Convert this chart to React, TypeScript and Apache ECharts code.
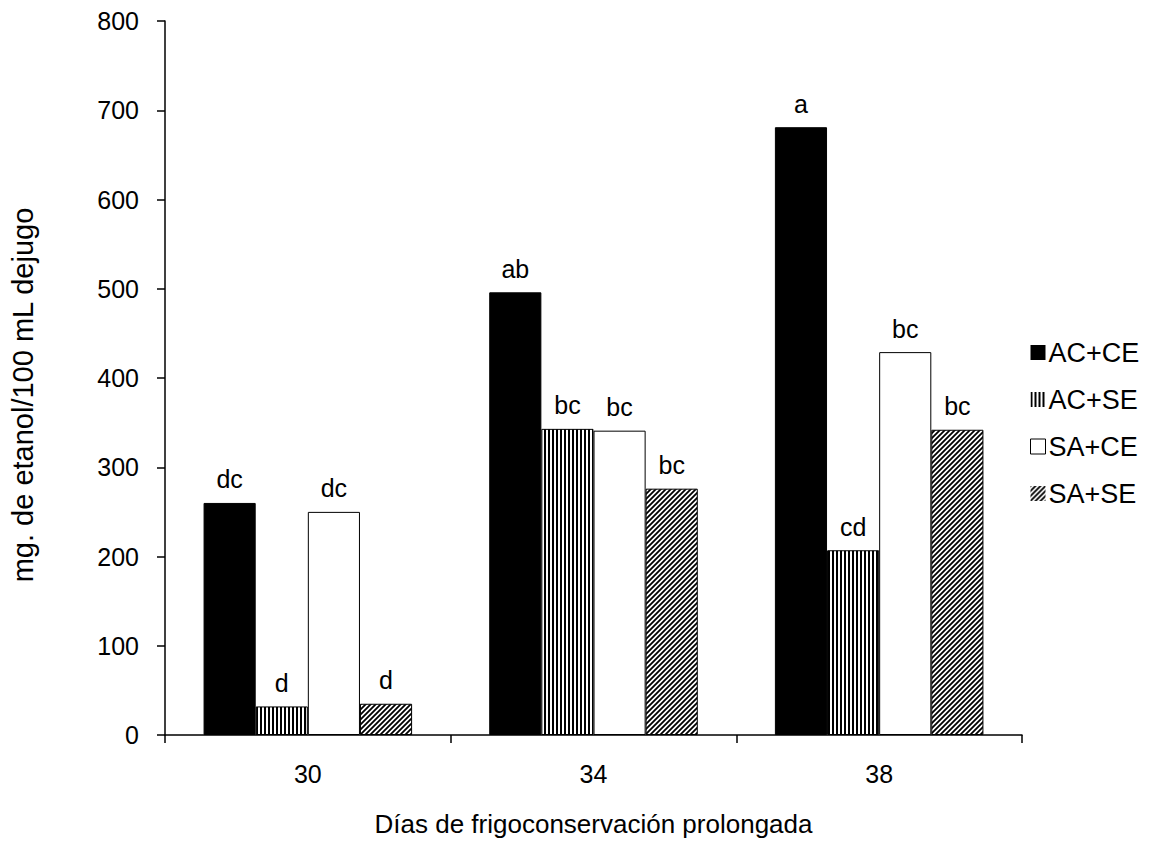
import React, { useEffect, useRef } from "react";
import * as echarts from "echarts";

const categories = ["30", "34", "38"];
const seriesNames = ["AC+CE", "AC+SE", "SA+CE", "SA+SE"];
const acce = [260, 496, 681];
const acse = [32, 343, 207];
const sace = [250, 341, 429];
const sase = [35, 276, 342];
const acceLabels = ["dc", "ab", "a"];
const acseLabels = ["d", "bc", "cd"];
const saceLabels = ["dc", "bc", "bc"];
const saseLabels = ["d", "bc", "bc"];
const yTicks = [0, 100, 200, 300, 400, 500, 600, 700, 800];

const FONT = "Liberation Sans, Arial, sans-serif";

function vStripes() {
  const c = document.createElement("canvas");
  c.width = 4;
  c.height = 4;
  const ctx = c.getContext("2d")!;
  ctx.fillStyle = "#fff";
  ctx.fillRect(0, 0, 4, 4);
  ctx.fillStyle = "#000";
  ctx.fillRect(0, 0, 2, 4);
  return c;
}

function diagHatch() {
  const s = 5;
  const c = document.createElement("canvas");
  c.width = s;
  c.height = s;
  const ctx = c.getContext("2d")!;
  ctx.fillStyle = "#fff";
  ctx.fillRect(0, 0, s, s);
  ctx.strokeStyle = "#000";
  ctx.lineWidth = 1.8;
  ctx.beginPath();
  for (let k = -1; k <= 1; k++) {
    ctx.moveTo(-1 + k * s, s + 1);
    ctx.lineTo(s + 1 + k * s, -1);
  }
  ctx.stroke();
  return c;
}

export default function App() {
  const ref = useRef<HTMLDivElement>(null);
  useEffect(() => {
    if (!ref.current) return;
    const chart = echarts.init(ref.current, null, { renderer: "svg" });
    const fills: any[] = [
      "#000",
      { image: vStripes(), repeat: "repeat" },
      "#fff",
      { image: diagHatch(), repeat: "repeat" },
    ];
    const datas = [acce, acse, sace, sase];
    const labels = [acceLabels, acseLabels, saceLabels, saseLabels];
    const series = seriesNames.map((name, i) => ({
      name,
      type: "bar",
      data: datas[i],
      barGap: "0%",
      barCategoryGap: "27%",
      itemStyle: { color: fills[i], borderColor: "#000", borderWidth: 1 },
      label: {
        show: true,
        position: "top",
        distance: 11,
        color: "#000",
        fontSize: 25,
        fontFamily: FONT,
        formatter: (p: any) => labels[i][p.dataIndex],
      },
    }));
    chart.setOption({
      animation: false,
      backgroundColor: "#fff",
      textStyle: { fontFamily: FONT },
      grid: { left: 164, right: 128, top: 21, bottom: 119 },
      legend: {
        orient: "vertical",
        left: 1025,
        top: 334,
        icon: "rect",
        itemWidth: 15,
        itemHeight: 15,
        itemGap: 20,
        textStyle: { fontSize: 27, lineHeight: 27, color: "#000", fontFamily: FONT, padding: [0, 0, 0, -2] },
        data: seriesNames.map((n, i) => ({
          name: n,
          itemStyle: i === 2 ? { borderColor: "#000", borderWidth: 1 } : { borderWidth: 0 },
        })),
      },
      xAxis: {
        type: "category",
        data: categories,
        name: "Días de frigoconservación prolongada",
        nameLocation: "middle",
        nameGap: 76,
        nameTextStyle: { fontSize: 26, color: "#000", fontFamily: FONT },
        axisLine: { lineStyle: { color: "#000", width: 1.5 } },
        axisTick: { show: true, length: 8, lineStyle: { color: "#000", width: 1.5 } },
        axisLabel: { fontSize: 25, color: "#000", margin: 26, fontFamily: FONT },
      },
      yAxis: {
        type: "value",
        min: yTicks[0],
        max: yTicks[yTicks.length - 1],
        interval: 100,
        name: "mg. de etanol/100 mL dejugo",
        nameLocation: "middle",
        nameGap: 128,
        nameTextStyle: { fontSize: 29, color: "#000", fontFamily: FONT, padding: [0, 34, 0, 0] },
        splitLine: { show: false },
        axisLine: { show: true, lineStyle: { color: "#000", width: 1.5 } },
        axisTick: { show: true, length: 8, lineStyle: { color: "#000", width: 1.5 } },
        axisLabel: { fontSize: 25, color: "#000", margin: 26, fontFamily: FONT },
      },
      series,
    });
    return () => chart.dispose();
  }, []);
  return <div ref={ref} style={{ width: 1150, height: 854, position: "absolute", left: 0, top: 0 }} />;
}
